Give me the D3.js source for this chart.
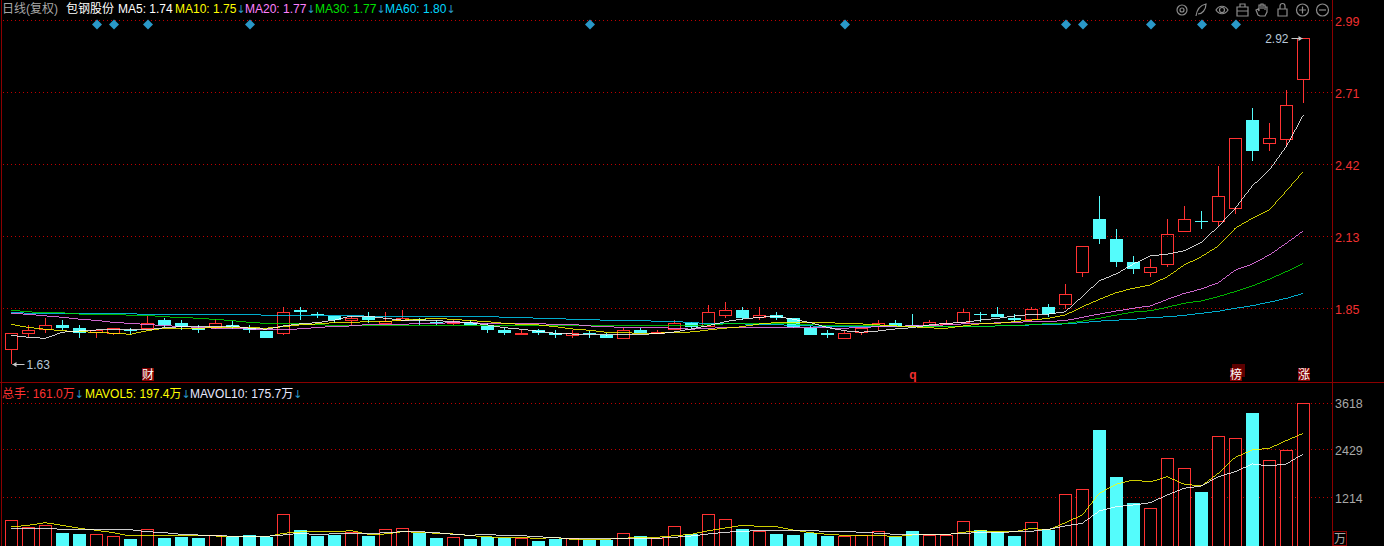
<!DOCTYPE html>
<html><head><meta charset="utf-8">
<script src="https://cdn.jsdelivr.net/npm/d3@7"></script>
<style>html,body{margin:0;padding:0;background:#000;overflow:hidden}svg{display:block}text{font-family:"Liberation Sans",Arial,"Noto Sans CJK SC",sans-serif}</style>
</head><body><svg id="c" width="1384" height="546"></svg>
<script>
const opens=[1.690,1.756,1.770,1.787,1.774,1.758,1.755,1.765,1.775,1.806,1.793,1.775,1.780,1.787,1.775,1.764,1.756,1.846,1.830,1.823,
1.806,1.819,1.796,1.806,1.809,1.800,1.793,1.796,1.784,1.767,1.754,1.767,1.756,1.748,1.754,1.746,1.736,1.767,1.755,1.770,
1.796,1.783,1.827,1.846,1.819,1.825,1.814,1.776,1.755,1.736,1.758,1.783,1.793,1.785,1.787,1.791,1.798,1.829,1.830,1.816,
1.809,1.857,1.871,1.998,2.206,2.127,2.036,1.998,2.029,2.160,2.200,2.200,2.249,2.598,2.509,2.522,2.760];
const closes=[1.754,1.766,1.785,1.775,1.756,1.767,1.774,1.763,1.793,1.785,1.780,1.767,1.793,1.780,1.767,1.735,1.837,1.838,1.828,1.805,
1.813,1.806,1.804,1.814,1.806,1.798,1.797,1.787,1.767,1.756,1.756,1.756,1.747,1.754,1.750,1.735,1.766,1.754,1.758,1.793,
1.780,1.837,1.845,1.814,1.825,1.816,1.780,1.747,1.748,1.754,1.774,1.793,1.780,1.780,1.797,1.796,1.837,1.828,1.818,1.806,
1.849,1.830,1.908,2.098,2.127,2.036,2.008,2.015,2.146,2.205,2.197,2.296,2.526,2.477,2.526,2.657,2.924];
const highs=[1.754,1.787,1.814,1.806,1.787,1.767,1.774,1.774,1.822,1.814,1.806,1.787,1.809,1.802,1.787,1.764,1.857,1.857,1.838,1.823,
1.823,1.838,1.838,1.846,1.813,1.806,1.806,1.806,1.793,1.774,1.767,1.770,1.767,1.767,1.763,1.756,1.775,1.775,1.767,1.806,
1.800,1.866,1.878,1.857,1.857,1.837,1.814,1.783,1.767,1.764,1.774,1.806,1.806,1.830,1.806,1.806,1.849,1.837,1.857,1.829,
1.859,1.870,1.949,2.098,2.297,2.167,2.060,2.048,2.206,2.258,2.238,2.416,2.526,2.645,2.585,2.717,2.924];
const lows=[1.634,1.740,1.756,1.767,1.735,1.735,1.747,1.747,1.770,1.780,1.767,1.756,1.770,1.770,1.756,1.735,1.747,1.806,1.814,1.793,
1.787,1.796,1.791,1.806,1.787,1.787,1.787,1.787,1.756,1.747,1.747,1.747,1.735,1.735,1.735,1.735,1.736,1.754,1.754,1.767,
1.774,1.780,1.814,1.806,1.806,1.806,1.775,1.747,1.735,1.736,1.747,1.767,1.780,1.780,1.783,1.787,1.793,1.797,1.818,1.800,
1.804,1.819,1.849,1.978,2.107,2.018,1.989,1.978,2.018,2.160,2.167,2.179,2.226,2.437,2.477,2.493,2.667];
const ma5=[1.746,1.738,1.734,1.758,1.763,1.767,1.767,1.767,1.767,1.776,1.780,1.780,1.780,1.783,1.774,1.770,1.783,1.791,1.796,1.806,
1.822,1.822,1.813,1.806,1.804,1.804,1.800,1.796,1.787,1.776,1.770,1.762,1.754,1.751,1.751,1.747,1.750,1.750,1.752,1.759,
1.771,1.784,1.800,1.810,1.817,1.822,1.809,1.796,1.777,1.764,1.758,1.763,1.771,1.776,1.787,1.793,1.797,1.806,1.813,1.822,
1.829,1.830,1.839,1.899,1.962,1.989,2.028,2.060,2.067,2.081,2.114,2.176,2.249,2.337,2.400,2.493,2.618];
const ma10=[1.789,1.777,1.770,1.764,1.760,1.758,1.754,1.750,1.764,1.774,1.774,1.774,1.776,1.776,1.776,1.774,1.780,1.787,1.791,1.796,
1.796,1.801,1.800,1.806,1.809,1.813,1.809,1.804,1.800,1.793,1.789,1.787,1.780,1.771,1.766,1.758,1.756,1.754,1.754,1.758,
1.759,1.767,1.774,1.780,1.791,1.796,1.796,1.797,1.796,1.793,1.791,1.787,1.783,1.780,1.775,1.774,1.783,1.791,1.793,1.800,
1.806,1.813,1.826,1.859,1.888,1.915,1.932,1.945,1.978,2.024,2.057,2.099,2.170,2.209,2.242,2.317,2.394];
const ma20=[1.833,1.829,1.823,1.817,1.810,1.805,1.797,1.793,1.789,1.784,1.781,1.777,1.774,1.771,1.771,1.767,1.770,1.771,1.777,1.781,
1.783,1.789,1.789,1.789,1.793,1.793,1.796,1.796,1.793,1.793,1.793,1.792,1.789,1.789,1.783,1.780,1.777,1.777,1.776,1.774,
1.770,1.774,1.776,1.777,1.777,1.777,1.777,1.777,1.775,1.774,1.777,1.780,1.781,1.784,1.785,1.787,1.791,1.793,1.795,1.797,
1.800,1.801,1.804,1.817,1.830,1.842,1.853,1.862,1.888,1.912,1.929,1.954,2.004,2.028,2.064,2.110,2.159];
const ma30=[1.845,1.839,1.835,1.835,1.830,1.830,1.830,1.825,1.825,1.819,1.817,1.813,1.809,1.804,1.797,1.793,1.793,1.791,1.788,1.785,
1.785,1.783,1.783,1.783,1.783,1.783,1.783,1.783,1.784,1.784,1.784,1.784,1.784,1.784,1.784,1.784,1.784,1.784,1.784,1.783,
1.783,1.788,1.791,1.791,1.792,1.792,1.791,1.788,1.785,1.784,1.783,1.783,1.783,1.781,1.780,1.780,1.780,1.781,1.783,1.784,
1.788,1.792,1.793,1.802,1.813,1.826,1.838,1.843,1.857,1.873,1.882,1.899,1.919,1.941,1.968,1.998,2.031];
const ma60=[1.837,1.833,1.831,1.831,1.831,1.831,1.831,1.831,1.829,1.829,1.829,1.829,1.829,1.829,1.829,1.825,1.825,1.825,1.825,1.825,
1.826,1.821,1.821,1.821,1.821,1.821,1.821,1.821,1.821,1.817,1.817,1.813,1.813,1.809,1.809,1.805,1.805,1.805,1.801,1.801,
1.796,1.793,1.792,1.791,1.788,1.788,1.785,1.783,1.781,1.781,1.780,1.779,1.779,1.779,1.779,1.780,1.780,1.781,1.783,1.784,
1.787,1.789,1.791,1.796,1.802,1.806,1.809,1.816,1.819,1.825,1.833,1.841,1.853,1.863,1.877,1.892,1.912];
const volumes=[629,451,509,331,306,273,222,178,400,204,229,204,255,237,280,229,782,408,255,280,
331,255,400,425,339,204,196,178,237,211,171,127,186,171,153,153,298,247,171,476,
313,782,655,433,357,306,280,339,255,222,255,349,229,382,262,255,604,400,364,255,
578,415,1291,1419,2955,1757,1095,935,2208,1954,1375,2769,2718,3388,2157,2412,3618];
const mavol5=[483,526,592,526,450,399,338,254,272,254,254,254,254,246,236,236,323,356,356,363,
389,297,305,363,348,323,305,262,236,211,211,196,211,170,170,170,196,221,221,262,
297,389,457,526,500,490,406,338,297,272,272,272,236,279,287,287,348,389,363,363,
450,406,592,787,1339,1567,1676,1626,1760,1567,1524,1847,2253,2438,2482,2675,2863];
const mavol10=[432,432,450,424,414,414,414,414,363,338,297,279,272,246,246,246,279,323,287,312,
323,312,338,363,363,338,297,272,297,262,262,236,211,185,185,185,185,196,196,221,
254,305,348,373,389,389,389,389,373,373,348,323,297,297,297,297,323,338,338,363,
373,424,508,577,889,998,1041,1100,1295,1466,1524,1760,1887,2083,2032,2083,2337];
const priceTicks=[2.99,2.705,2.42,2.135,1.85];
const priceTickLabels=["2.99","2.71","2.42","2.13","1.85"];
const volTicks=[3618,2429,1214];
const diamondIdx=[5,6,8,14,34,49,62,63,67,70,72];
const eventIdx=[8,53,72,76];
const eventLabels=["财","q","榜","涨"];
const priceHeader=[["日线(复权)",""],["包钢股份",""],["MA5: 1.74",""],["MA10: 1.75","↓"],["MA20: 1.77","↓"],["MA30: 1.77","↓"],["MA60: 1.80","↓"]];
const volHeader=[["总手: 161.0万","↓"],["MAVOL5: 197.4万","↓"],["MAVOL10: 175.7万","↓"]];

const RED="#ff3232",CY="#54fcfc",GRID="#c00000",AX="#8b0000",GR="#a8a8a8",ARW="#2a98c8";
const svg=d3.select("#c");
const x=d3.scaleLinear().domain([0,76]).range([11.3,1303.3]);
const cx=i=>Math.round(x(i))+0.5;
const y=d3.scaleLinear().domain([1.85,2.99]).range([309,21]);
const yv=d3.scaleLinear().domain([0,3618]).range([546,403.5]);
const crisp=v=>Math.round(v)+0.5;

// grid
svg.selectAll(".g1").data(priceTicks).join("line").attr("x1",3).attr("x2",1332)
 .attr("y1",d=>Math.round(y(d))-.5).attr("y2",d=>Math.round(y(d))-.5)
 .attr("stroke",GRID).attr("stroke-dasharray","1 3");
svg.selectAll(".g2").data(volTicks).join("line").attr("x1",3).attr("x2",1332)
 .attr("y1",d=>Math.round(yv(d))-.5).attr("y2",d=>Math.round(yv(d))-.5)
 .attr("stroke",GRID).attr("stroke-dasharray","1 3");
// frame
[[1.5,0,1.5,546],[1332.5,0,1332.5,546],[0,382.5,1384,382.5]].forEach(l=>svg.append("line").attr("x1",l[0]).attr("y1",l[1]).attr("x2",l[2]).attr("y2",l[3]).attr("stroke",AX));

// axis labels
svg.selectAll(".pl").data(priceTicks).join("text").attr("x",1335).attr("y",d=>y(d)+4.5).attr("fill","#f03030").attr("font-size",12.5).text((d,i)=>priceTickLabels[i]);
svg.selectAll(".vl").data(volTicks).join("text").attr("x",1335).attr("y",d=>yv(d)+4.5).attr("fill",GR).attr("font-size",12.5).text(d=>d);

// volume
const idx=d3.range(opens.length);
svg.append("g").selectAll("rect").data(idx).join("rect")
 .attr("x",i=>closes[i]>=opens[i]?cx(i)-6:cx(i)-6.5)
 .attr("width",i=>closes[i]>=opens[i]?12:13)
 .attr("y",i=>crisp(yv(volumes[i]))-(closes[i]>=opens[i]?1:.5))
 .attr("height",i=>546-crisp(yv(volumes[i]))+2)
 .attr("fill",i=>closes[i]>=opens[i]?"#000":CY)
 .attr("stroke",i=>closes[i]>=opens[i]?RED:"none").attr("stroke-width",1).attr("shape-rendering","crispEdges");

// candles
const cg=svg.append("g").attr("shape-rendering","crispEdges");
idx.forEach(i=>{
 const up=closes[i]>=opens[i],c=up?RED:CY,X=cx(i);
 const t=Math.round(y(Math.max(opens[i],closes[i]))),b=Math.round(y(Math.min(opens[i],closes[i])));
 cg.append("line").attr("x1",X).attr("x2",X).attr("y1",y(highs[i])).attr("y2",t).attr("stroke",c);
 cg.append("line").attr("x1",X).attr("x2",X).attr("y1",b).attr("y2",y(lows[i])).attr("stroke",c);
 if(up) cg.append("rect").attr("x",X-6).attr("width",12).attr("y",t+.5).attr("height",Math.max(1,b-t)).attr("fill","none").attr("stroke",c);
 else cg.append("rect").attr("x",X-6.5).attr("width",13).attr("y",t).attr("height",Math.max(1,b-t)).attr("fill",c);
});

// MA lines
const lp=d3.line().x((d,i)=>x(i)).y(d=>y(d));
const lv=d3.line().x((d,i)=>x(i)).y(d=>yv(d));
[[ma60,"#00d8ff"],[ma30,"#00e000"],[ma20,"#ff80ff"],[ma10,"#ffff00"],[ma5,"#ffffff"]].forEach(s=>
 svg.append("path").attr("d",lp(s[0])).attr("fill","none").attr("stroke",s[1]).attr("stroke-width",.8).attr("shape-rendering","crispEdges"));
[[mavol5,"#ffff00"],[mavol10,"#ffffff"]].forEach(s=>
 svg.append("path").attr("d",lv(s[0])).attr("fill","none").attr("stroke",s[1]).attr("stroke-width",.8).attr("shape-rendering","crispEdges"));

// diamonds
svg.selectAll(".d").data(diamondIdx).join("path").attr("d","M0,-5L5,0L0,5L-5,0Z")
 .attr("transform",i=>`translate(${Math.round(x(i))+1},24.5)`).attr("fill",ARW);

// event tags
eventIdx.forEach((i,k)=>{
 const X=Math.round(x(i));
 if(eventLabels[k]==="榜") svg.append("rect").attr("x",X-3).attr("y",364).attr("width",13).attr("height",13).attr("fill","#5c0000");
 if(eventLabels[k]!=="q") svg.append("rect").attr("x",X-5).attr("y",368).attr("width",12).attr("height",13).attr("fill","#800000");
 svg.append("text").attr("x",X+1).attr("y",379).attr("text-anchor","middle").attr("font-size",12)
  .attr("fill",eventLabels[k]==="q"?"#f03030":"#fff").attr("font-weight",eventLabels[k]==="q"?"bold":"normal").text(eventLabels[k]);
});

// headers
const arrowSpan=(t,s)=>t.append("tspan").attr("fill",ARW).attr("font-family","DejaVu Sans").attr("font-size",11).text(s);
const px=[2,66,118,175,245,315,385],pc=["#a8a8a8","#fff","#fff","#ffff00","#ff80ff","#00e000","#00d8ff"];
priceHeader.forEach((h,k)=>{
 const t=svg.append("text").attr("x",px[k]).attr("y",13).attr("font-size",12).attr("fill",pc[k]);
 t.append("tspan").text(h[0]);
 if(h[1]) arrowSpan(t,h[1]);
});
const vx=[2,85,190],vc=[RED,"#ffff00","#e8e8ff"];
volHeader.forEach((h,k)=>{
 const t=svg.append("text").attr("x",vx[k]).attr("y",398).attr("font-size",12).attr("fill",vc[k]);
 t.append("tspan").text(h[0]);
 arrowSpan(t,h[1]);
});

// extreme labels
function ext(val,i,dir){
 const X=cx(i),Y=Math.round(y(val))+.5;
 const ax=dir>0?X+13:X-12;
 svg.append("line").attr("x1",X+(dir>0?1:-1)).attr("x2",ax).attr("y1",Y).attr("y2",Y).attr("stroke","#c8c8c8");
 svg.append("path").attr("d",dir>0?`M${X+1},${Y}l4,-2.5v5Z`:`M${X-1},${Y}l-4,-2.5v5Z`).attr("fill","#c8c8c8");
 svg.append("text").attr("x",dir>0?ax+2:ax-3).attr("y",Y+4.5).attr("text-anchor",dir>0?"start":"end").attr("font-size",12).attr("fill","#b8c8d8").text(val.toFixed(2));
}
ext(d3.min(lows),0,1);
ext(d3.max(highs),76,-1);

// 万 box
svg.append("rect").attr("x",1333.5).attr("y",531.5).attr("width",13).attr("height",14).attr("fill","none").attr("stroke",AX);
svg.append("text").attr("x",1340).attr("y",543).attr("text-anchor","middle").attr("font-size",12).attr("fill",GR).text("万");

// toolbar icons
const ic=svg.append("g").attr("fill","none").attr("stroke","#8c8c8c").attr("stroke-width",1.2);
ic.append("circle").attr("cx",1182).attr("cy",10).attr("r",5);ic.append("circle").attr("cx",1182).attr("cy",10).attr("r",2);
ic.append("path").attr("d","M1196,16C1197,9 1201,5 1206,4C1206,10 1202,14 1198,14");
ic.append("path").attr("d","M1216,10C1219,5 1225,5 1228,10C1225,15 1219,15 1216,10Z");ic.append("circle").attr("cx",1222).attr("cy",10).attr("r",2.5);
ic.append("path").attr("d","M1237,7H1248V16H1237ZM1240,7V4H1245V7M1237,11H1248");
ic.append("path").attr("d","M1258,15L1256,10L1258,9L1259,11V5H1261V9V4H1263V9V5H1265V10V7H1267V12L1265,16H1260Z");
ic.append("path").attr("d","M1278,9H1287V16H1278ZM1280,9V6A2.5,2.5 0 0 1 1285,6V9");
ic.append("circle").attr("cx",1302.5).attr("cy",10).attr("r",6);ic.append("path").attr("d","M1299,10H1306M1302.5,6.5V13.5");
ic.append("circle").attr("cx",1322.5).attr("cy",10).attr("r",6);ic.append("path").attr("d","M1319,10H1326");
</script></body></html>
